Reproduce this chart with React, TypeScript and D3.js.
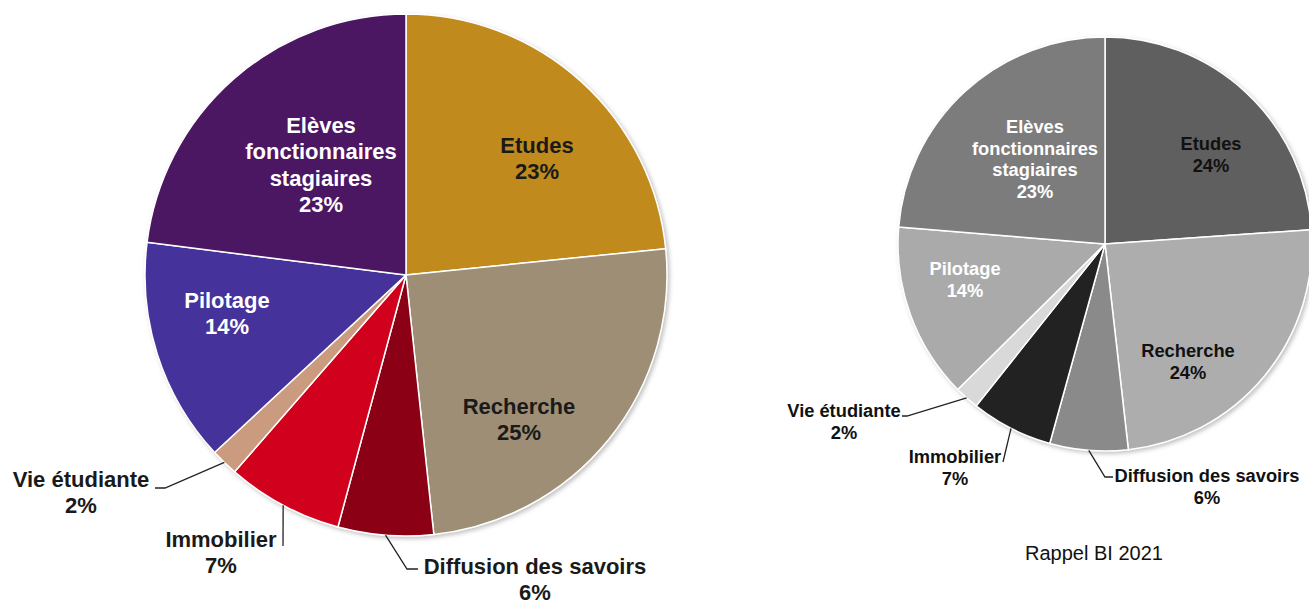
import React from 'react';
import * as d3 from 'd3';

// categories in drawing order (clockwise from 12 o'clock)
const categories = [
  'Etudes',
  'Recherche',
  'Diffusion des savoirs',
  'Immobilier',
  'Vie étudiante',
  'Pilotage',
  'Elèves fonctionnaires stagiaires',
];

// shares (percent)
const values2022 = [23.4, 24.9, 5.9, 7.2, 1.7, 13.9, 23.0];
const values2021 = [23.9, 24.3, 6.1, 6.4, 1.9, 13.7, 23.7];

// printed percentages
const labels2022 = ['23%', '25%', '6%', '7%', '2%', '14%', '23%'];
const labels2021 = ['24%', '24%', '6%', '7%', '2%', '14%', '23%'];

const colors2022 = ['#c08a1f', '#9d8e74', '#8c0014', '#d1021b', '#cb9b7f', '#45329a', '#4b1862'];
const colors2021 = ['#5f5f5f', '#adadad', '#8a8a8a', '#232323', '#d9d9d9', '#aaaaaa', '#7b7b7b'];

const subtitle2021 = 'Rappel BI 2021';

type LabelLayout = {
  lines: string[];
  x: number;
  y: number; // baseline of first line
  fill: string;
  leader?: [number, number][]; // points after the arc edge point
};

interface PieProps {
  cx: number;
  cy: number;
  r: number;
  values: number[];
  colors: string[];
  layout: LabelLayout[];
  fontSize: number;
  lineHeight: number;
  pct: string[];
}

const FONT = "'Liberation Sans', Arial, Helvetica, sans-serif";

const Pie: React.FC<PieProps> = ({ cx, cy, r, values, colors, layout, fontSize, lineHeight, pct }) => {
  const pie = d3.pie<number>().sort(null).value(d => d);
  const arcs = pie(values);
  const arc = d3.arc<d3.PieArcDatum<number>>().innerRadius(0).outerRadius(r);
  const edge = d3.arc<d3.PieArcDatum<number>>().innerRadius(r).outerRadius(r);

  return (
    <g>
      <g transform={`translate(${cx},${cy})`} filter="url(#shadow)">
        {arcs.map((a, i) => (
          <path key={i} d={arc(a) || ''} fill={colors[i]} stroke="#fff" strokeWidth={1.5} strokeLinejoin="round" />
        ))}
      </g>
      {arcs.map((a, i) => {
        const l = layout[i];
        const [ex, ey] = edge.centroid(a);
        const pts: [number, number][] = l.leader ? [[cx + ex, cy + ey], ...l.leader] : [];
        return (
          <g key={i}>
            {l.leader && (
              <path
                d={d3.line()(pts) || ''}
                fill="none"
                stroke="#222"
                strokeWidth={1.3}
              />
            )}
            <text
              x={l.x}
              y={l.y}
              textAnchor="middle"
              fontFamily={FONT}
              fontWeight="bold"
              fontSize={fontSize}
              fill={l.fill}
            >
              {[...l.lines, pct[i]].map((t, j) => (
                <tspan key={j} x={l.x} dy={j === 0 ? 0 : lineHeight}>
                  {t}
                </tspan>
              ))}
            </text>
          </g>
        );
      })}
    </g>
  );
};

const layout2022: LabelLayout[] = [
  { lines: ['Etudes'], x: 537, y: 153, fill: '#1a1a1a' },
  { lines: ['Recherche'], x: 519, y: 414, fill: '#1a1a1a' },
  { lines: ['Diffusion des savoirs'], x: 535, y: 574, fill: '#1a1a1a', leader: [[407, 569], [418, 569]] },
  { lines: ['Immobilier'], x: 221, y: 547, fill: '#1a1a1a', leader: [[283, 546]] },
  { lines: ['Vie étudiante'], x: 81, y: 487, fill: '#1a1a1a', leader: [[165, 488], [155, 488]] },
  { lines: ['Pilotage'], x: 227, y: 308, fill: '#ffffff' },
  { lines: ['Elèves', 'fonctionnaires', 'stagiaires'], x: 321, y: 133, fill: '#ffffff' },
];

const layout2021: LabelLayout[] = [
  { lines: ['Etudes'], x: 1211, y: 150, fill: '#111' },
  { lines: ['Recherche'], x: 1188, y: 357, fill: '#111' },
  { lines: ['Diffusion des savoirs'], x: 1207, y: 482, fill: '#111', leader: [[1105, 477], [1113, 477]] },
  { lines: ['Immobilier'], x: 955, y: 463, fill: '#111', leader: [[1003, 462]] },
  { lines: ['Vie étudiante'], x: 844, y: 417, fill: '#111', leader: [[907, 416], [902, 416]] },
  { lines: ['Pilotage'], x: 965, y: 275, fill: '#ffffff' },
  { lines: ['Elèves', 'fonctionnaires', 'stagiaires'], x: 1035, y: 133, fill: '#ffffff' },
];

export default function App() {
  return (
    <svg
      width={1309}
      height={601}
      style={{ position: 'absolute', left: 0, top: 0, background: '#fff' }}
    >
      <defs>
        <filter id="shadow" x="-10%" y="-10%" width="120%" height="120%">
          <feDropShadow dx={2} dy={2} stdDeviation={2} floodColor="#777" floodOpacity={0.45} />
        </filter>
      </defs>
      <Pie
        cx={406}
        cy={275}
        r={261}
        values={values2022}
        colors={colors2022}
        layout={layout2022}
        fontSize={22}
        lineHeight={26.3}
        pct={labels2022}
      />
      <Pie
        cx={1105}
        cy={244}
        r={207}
        values={values2021}
        colors={colors2021}
        layout={layout2021}
        fontSize={18.3}
        lineHeight={21.5}
        pct={labels2021}
      />
      <text x={1094} y={560} textAnchor="middle" fontFamily={FONT} fontSize={20} fill="#111">
        {subtitle2021}
      </text>
      <title>{categories.join(', ')}</title>
    </svg>
  );
}
